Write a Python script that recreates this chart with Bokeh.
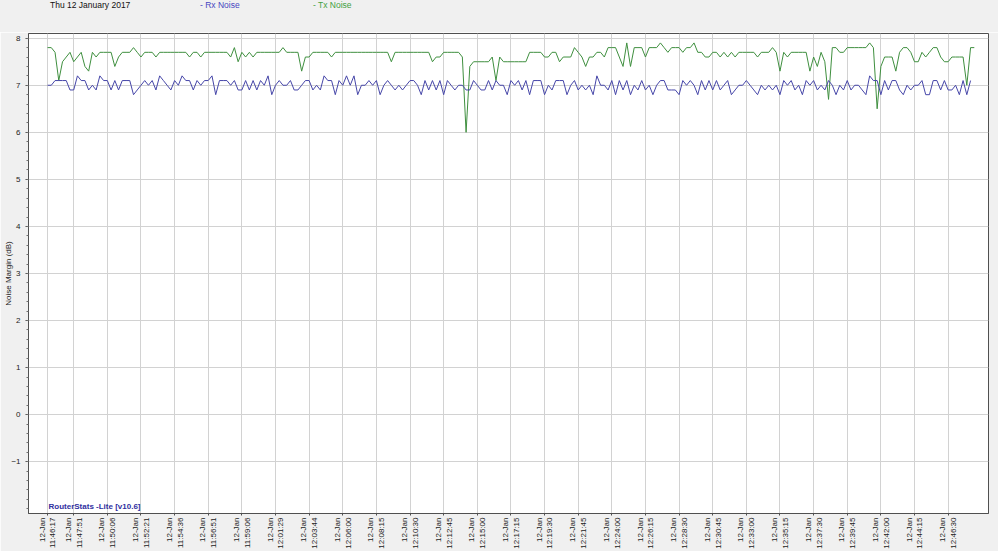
import numpy as np
from bokeh.plotting import figure
from bokeh.models import FixedTicker, Range1d, Label, Div
from bokeh.layouts import column
from bokeh.embed import file_html
from bokeh.resources import INLINE

# ---- data (sample index based, ~15 s apart) ----
rx_noise = [
    7.0, 7.0, 7.1, 7.1, 7.1, 7.1, 6.9, 6.9, 7.2, 7.1,
    7.1, 6.9, 7.0, 6.9, 7.2, 7.1, 7.1, 6.9, 7.1, 6.9,
    7.1, 7.1, 7.1, 6.8, 6.9, 7.0, 7.1, 7.0, 7.1, 6.9,
    7.2, 7.1, 7.0, 6.9, 7.1, 7.0, 7.2, 7.1, 7.1, 6.9,
    7.1, 7.0, 7.1, 7.1, 7.2, 6.8, 7.1, 7.1, 7.1, 7.0,
    7.1, 6.9, 6.9, 7.1, 6.9, 7.1, 6.9, 7.1, 7.0, 7.2,
    6.8,
    7.0, 7.1, 7.0, 7.0, 7.1, 6.9, 6.9, 7.0, 7.1, 7.1,
    6.9, 7.0, 6.9, 7.2, 7.1, 7.1, 6.8, 7.1, 7.0, 7.2,
    7.0, 7.2, 6.8, 7.0, 7.0, 7.1, 7.0, 7.1, 6.8, 7.0,
    7.1, 7.0, 6.9, 7.0, 6.9, 7.0, 7.1, 7.1, 7.0, 6.8,
    7.1, 6.9, 7.1, 6.9, 7.1, 6.8, 7.1, 7.0, 6.9, 7.0,
    7.0, 6.9, 6.9, 7.1, 7.0, 6.9, 6.9, 7.1, 6.9, 7.1,
    7.0, 7.0, 6.8,
    7.1, 7.0, 7.1, 6.9, 7.1, 6.8, 7.1, 7.1, 7.1, 6.8,
    7.0, 6.9, 7.1, 7.1, 7.1, 6.8, 7.0, 7.1, 6.9, 7.0,
    6.9, 7.0, 6.8, 7.2, 7.0, 7.0, 6.9, 7.1, 6.8, 7.1,
    6.9, 7.1, 6.8, 7.0, 6.9, 7.1, 6.9, 7.0, 6.8, 7.0,
    7.1, 7.1, 6.9, 6.9, 6.9, 6.8, 7.1, 7.0, 7.1, 7.0,
    6.8, 7.1, 6.9, 7.1, 6.9, 7.1, 6.9, 7.0, 7.1, 6.8,
    6.9, 7.0, 7.0,
    7.1, 7.0, 6.9, 6.8, 7.0, 6.9, 7.0, 6.9, 7.0, 6.8,
    7.1, 7.0, 7.1, 6.9, 7.0, 6.8, 7.1, 7.0, 7.1, 6.9,
    7.0, 6.9, 7.1, 7.0, 6.8, 7.0, 6.9, 7.1, 6.9, 7.0,
    7.0, 6.9, 6.8, 7.2, 7.1, 7.1, 6.8, 7.1, 6.9, 7.1,
    7.1, 6.9, 6.8, 7.0, 6.9, 7.0, 7.0, 7.1, 6.8, 6.8,
    7.1, 7.1, 6.9, 7.1, 6.9, 6.9, 7.0, 6.8, 7.1, 6.8, 7.1,
]

tx_noise = [
    7.8, 7.8, 7.7, 7.1, 7.5, 7.6, 7.7, 7.5, 7.6, 7.7,
    7.4, 7.3, 7.7, 7.6, 7.7, 7.7, 7.7, 7.7, 7.4, 7.6,
    7.7, 7.7, 7.7, 7.8, 7.7, 7.6, 7.7, 7.7, 7.7, 7.6,
    7.7, 7.7, 7.7, 7.7, 7.7, 7.7, 7.7, 7.7, 7.6, 7.7,
    7.7, 7.6, 7.7, 7.7, 7.7, 7.7, 7.7, 7.7, 7.7, 7.6,
    7.8, 7.5, 7.7, 7.6, 7.7, 7.6, 7.7, 7.7, 7.7, 7.7,
    7.7, 7.7, 7.7, 7.8, 7.7, 7.7, 7.7, 7.7, 7.3, 7.6,
    7.6, 7.7, 7.7, 7.7, 7.7, 7.7, 7.6, 7.7, 7.7, 7.7,
    7.7, 7.7, 7.7, 7.7, 7.7, 7.7, 7.7, 7.7, 7.7, 7.7,
    7.7, 7.7, 7.5, 7.7, 7.7, 7.7, 7.7, 7.7, 7.7, 7.7,
    7.7, 7.7, 7.7, 7.5, 7.6, 7.6, 7.7, 7.7, 7.7, 7.7,
    7.7, 7.6, 6.0, 7.4, 7.5, 7.5, 7.5, 7.5, 7.5, 7.6,
    7.1, 7.6, 7.5, 7.5, 7.5, 7.5, 7.5, 7.5, 7.5, 7.7,
    7.7, 7.7, 7.7, 7.6, 7.6, 7.7, 7.7, 7.5, 7.6, 7.6,
    7.6, 7.8, 7.7, 7.6, 7.4, 7.6, 7.6, 7.7, 7.7, 7.6,
    7.8, 7.8, 7.8, 7.6, 7.4, 7.9, 7.4, 7.8, 7.8, 7.8,
    7.6, 7.8, 7.8, 7.8, 7.9, 7.8, 7.7, 7.8, 7.8, 7.8,
    7.7, 7.8, 7.8, 7.9, 7.7, 7.7, 7.6, 7.6, 7.7, 7.7,
    7.6, 7.7, 7.6, 7.7, 7.6, 7.7, 7.7, 7.7, 7.7, 7.7,
    7.6, 7.7, 7.7, 7.7, 7.8, 7.7, 7.3, 7.7, 7.6, 7.7,
    7.7, 7.7, 7.7, 7.7, 7.3, 7.6, 7.4, 7.7, 7.5, 6.7,
    7.8, 7.8, 7.7, 7.7, 7.8, 7.8, 7.8, 7.8, 7.8, 7.8,
    7.9, 7.8, 6.5, 7.4, 7.6, 7.6, 7.6, 7.3, 7.7, 7.8,
    7.8, 7.7, 7.5, 7.5, 7.7, 7.6, 7.7, 7.8, 7.8, 7.6,
    7.5, 7.5, 7.6, 7.6, 7.6, 7.6, 7.0, 7.8, 7.8,
]

tick_index = [0, 7, 16, 25, 34, 43, 52, 61, 70, 79, 88, 97, 106, 115,
              124, 133, 142, 151, 160, 169, 178, 187, 196, 205, 214, 223, 232, 241]
tick_times = ["11:46:17", "11:47:51", "11:50:06", "11:52:21", "11:54:36", "11:56:51",
              "11:59:06", "12:01:29", "12:03:44", "12:06:00", "12:08:15", "12:10:30",
              "12:12:45", "12:15:00", "12:17:15", "12:19:30", "12:21:45", "12:24:00",
              "12:26:15", "12:28:30", "12:30:45", "12:33:00", "12:35:15", "12:37:30",
              "12:39:45", "12:42:00", "12:44:15", "12:46:30"]
tick_date = "12-Jan"
y_ticks = [-1, 0, 1, 2, 3, 4, 5, 6, 7, 8]

date_text = "Thu 12 January 2017"
rx_name = "- Rx Noise"
tx_name = "- Tx Noise"

FONT = "Liberation Sans"
BG = "#F0F0F0"

header = Div(
    text=(
        '<div style="position:relative;width:998px;height:32px;'
        "font-family:'Liberation Sans';font-size:8.5px;line-height:10px;\">"
        f'<span style="position:absolute;left:50px;top:0px;color:#111111">{date_text}</span>'
        f'<span style="position:absolute;left:200px;top:0px;color:#4646C0">{rx_name}</span>'
        f'<span style="position:absolute;left:313px;top:0px;color:#42A042">{tx_name}</span>'
        '</div>'
    ),
    width=998, height=32, margin=(0, 0, 0, 0),
    styles={"background-color": BG},
)

p = figure(width=998, height=519, output_backend="svg", toolbar_location=None,
           x_range=Range1d(-5.1, 251.8), y_range=Range1d(-2.1, 8.1),
           min_border_left=28, min_border_right=10, min_border_top=1, min_border_bottom=0)
p.background_fill_color = "white"
p.border_fill_color = BG
p.outline_line_color = "#505050"
p.outline_line_width = 1

p.line(np.arange(len(tx_noise)), tx_noise, line_color="#3F8F3F", line_width=1)
p.line(np.arange(len(rx_noise)), rx_noise, line_color="#4646A8", line_width=1)

# x axis
xa = p.xaxis[0]
xa.ticker = FixedTicker(ticks=tick_index, minor_ticks=[])
xa.major_label_overrides = {i: f"{tick_date}\n{t}" for i, t in zip(tick_index, tick_times)}
xa.major_label_orientation = np.pi / 2
xa.major_label_text_font = FONT
xa.major_label_text_font_size = "8px"
xa.major_label_text_color = "#222222"
xa.major_label_standoff = 2
xa.major_tick_out = 2
xa.major_tick_in = 0
xa.axis_line_color = "#505050"
xa.major_tick_line_color = "#505050"

# y axis
ya = p.yaxis[0]
ya.ticker = FixedTicker(ticks=y_ticks, minor_ticks=list(np.round(np.arange(-2.0, 8.01, 0.2), 2)))
ya.axis_label = "Noise Margin (dB)"
ya.axis_label_text_font = FONT
ya.axis_label_text_font_size = "8px"
ya.axis_label_text_font_style = "normal"
ya.axis_label_text_color = "#222222"
ya.axis_label_standoff = -5
ya.major_label_text_font = FONT
ya.major_label_text_font_size = "8px"
ya.major_label_text_color = "#222222"
ya.major_label_standoff = 5
ya.major_tick_out = 3
ya.major_tick_in = 0
ya.minor_tick_out = 2
ya.minor_tick_in = 0
ya.axis_line_color = "#505050"
ya.major_tick_line_color = "#505050"
ya.minor_tick_line_color = "#707070"

p.xgrid.grid_line_color = "#D2D2D2"
p.ygrid.grid_line_color = "#D2D2D2"

# watermark
p.add_layout(Label(x=20, x_units="screen", y=-2.1, y_units="data", y_offset=3,
                   text="RouterStats -Lite [v10.6]", text_font=FONT, text_font_size="8px",
                   text_font_style="bold", text_color="#3030A0", text_baseline="bottom"))

layout = column(header, p, spacing=0)
open("out.html", "w").write(file_html(layout, INLINE))
